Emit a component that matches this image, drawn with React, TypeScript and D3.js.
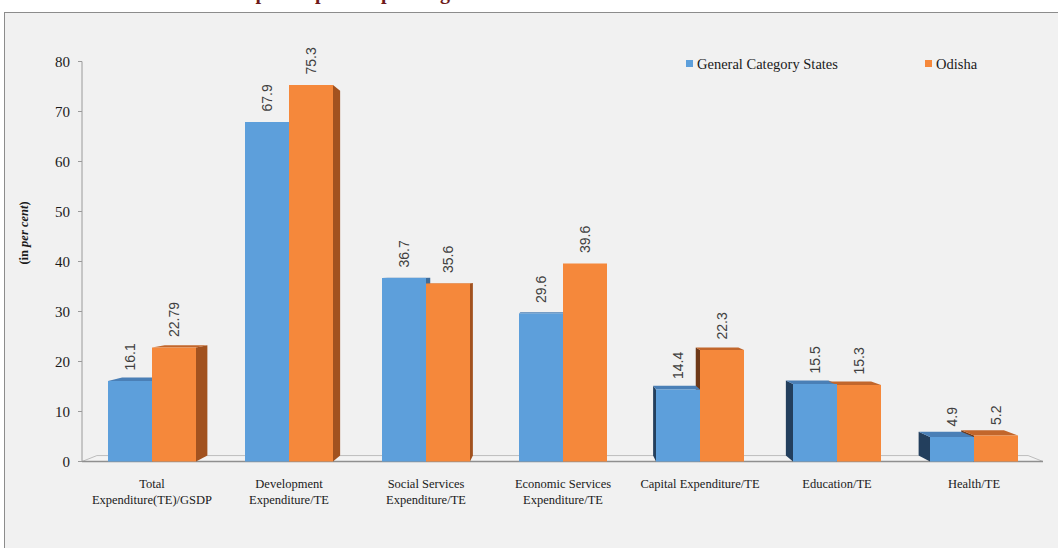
import React from "react";
import * as d3 from "d3";

const categoryLines: string[][] = [
  ["Total", "Expenditure(TE)/GSDP"],
  ["Development", "Expenditure/TE"],
  ["Social Services", "Expenditure/TE"],
  ["Economic Services", "Expenditure/TE"],
  ["Capital Expenditure/TE"],
  ["Education/TE"],
  ["Health/TE"],
];
const categories = categoryLines.map((l) => l.join(" "));
const seriesNames = ["General Category States", "Odisha"];
const gcsValues = [16.1, 67.9, 36.7, 29.6, 14.4, 15.5, 4.9];
const odishaValues = [22.79, 75.3, 35.6, 39.6, 22.3, 15.3, 5.2];
const yTicks = [0, 10, 20, 30, 40, 50, 60, 70, 80];

const W = 1058;
const H = 548;

const palette = {
  front: ["#5d9fdb", "#f5883b"],
  top: ["#4a7fb6", "#c2662b"],
  leftSide: ["#233f5d", "#6e3817"],
  rightSide: ["#3f6c9a", "#a2521f"],
};

export default function App() {
  const x0 = d3.scaleBand<string>().domain(categories).range([83.5, 1042.5]).paddingInner(0).paddingOuter(0);
  const x1 = d3.scaleBand<string>().domain(seriesNames).range([0, x0.bandwidth()]).paddingInner(0).paddingOuter(0.5568);
  const y = d3.scaleLinear().domain([0, 80]).range([461.5, 61.5]);

  const vx = 563;
  const vy = 270;
  const s = 0.969;
  const P = (px: number, py: number): [number, number] => [vx + (px - vx) * s, vy + (py - vy) * s];
  const pts = (arr: [number, number][]) => arr.map((p) => p.join(",")).join(" ");

  const base = y(0);
  type Bar = { x0: number; x1: number; yt: number; si: number; v: number; c: number };
  const bars: Bar[] = [];
  categories.forEach((c, i) => {
    [gcsValues[i], odishaValues[i]].forEach((v, si) => {
      const bx = (x0(c) as number) + (x1(seriesNames[si]) as number);
      bars.push({ x0: bx, x1: bx + x1.bandwidth(), yt: y(v), si, v, c: i });
    });
  });

  const floorL = 82;
  const floorR = 1043;
  const fbl = P(floorL, base);
  const fbr = P(floorR, base);

  return (
    <svg width={W} height={H} style={{ position: "absolute", left: 0, top: 0, display: "block" }}>
      <rect x={0} y={0} width={W} height={H} fill="#ffffff" />
      <text
        x={450}
        y={-0.8}
        textAnchor="end"
        fontFamily="Liberation Serif, serif"
        fontWeight="bold"
        fontSize={20}
        fill="#6e1b1b"
      >
        Odisha vis-à-vis GCS: Development public spending
      </text>
      <rect x={4.5} y={12.5} width={W} height={H} fill="#f1f1f1" stroke="#8c8c8c" strokeWidth={1} />

      {/* floor */}
      <polygon
        points={pts([[floorL, base], [floorR, base], fbr, fbl])}
        fill="#f3f3f3"
        stroke="#bdbdbd"
        strokeWidth={1}
      />
      <line x1={floorL} x2={floorR} y1={base} y2={base} stroke="#8f8f8f" strokeWidth={1.5} />

      {/* y axis */}
      <line x1={82} x2={82} y1={y(80)} y2={base} stroke="#9a9a9a" strokeWidth={1} />
      {yTicks.map((t) => (
        <g key={t}>
          <line x1={78} x2={82} y1={y(t)} y2={y(t)} stroke="#9a9a9a" strokeWidth={1} />
          <text
            x={70}
            y={y(t)}
            dy="0.35em"
            textAnchor="end"
            fontFamily="Liberation Serif, serif"
            fontSize={15}
            fill="#1a1a1a"
          >
            {t}
          </text>
        </g>
      ))}
      <text
        transform="translate(24,233) rotate(-90)"
        textAnchor="middle"
        dy="0.35em"
        fontFamily="Liberation Serif, serif"
        fontWeight="bold"
        fontSize={12.5}
        fill="#1a1a1a"
      >
        (in <tspan fontStyle="italic">per cent</tspan>)
      </text>

      {/* side faces */}
      {bars.map((b, i) => (
        <g key={"side" + i}>
          {b.x1 < vx - 0.5 && (
            <polygon
              points={pts([[b.x1, b.yt], [b.x1, base], P(b.x1, base), P(b.x1, b.yt)])}
              fill={palette.rightSide[b.si]}
            />
          )}
          {b.x0 > vx + 0.5 && (
            <polygon
              points={pts([[b.x0, b.yt], [b.x0, base], P(b.x0, base), P(b.x0, b.yt)])}
              fill={palette.leftSide[b.si]}
            />
          )}
        </g>
      ))}
      {/* top faces */}
      {bars.map((b, i) =>
        b.yt > vy ? (
          <polygon
            key={"top" + i}
            points={pts([[b.x0, b.yt], [b.x1, b.yt], P(b.x1, b.yt), P(b.x0, b.yt)])}
            fill={palette.top[b.si]}
          />
        ) : null
      )}
      {/* front faces */}
      {bars.map((b, i) => (
        <rect
          key={"front" + i}
          x={b.x0}
          y={b.yt}
          width={b.x1 - b.x0}
          height={base - b.yt}
          fill={palette.front[b.si]}
        />
      ))}
      {/* value labels */}
      {bars.map((b, i) => (
        <text
          key={"lab" + i}
          transform={`translate(${(b.x0 + b.x1) / 2},${b.yt - 10.5}) rotate(-90)`}
          dy="0.35em"
          textAnchor="start"
          fontFamily="Liberation Sans, Arial, sans-serif"
          fontSize={14}
          fill="#404040"
        >
          {String(b.v)}
        </text>
      ))}

      {/* x labels */}
      {categoryLines.map((lines, i) => (
        <text
          key={"xl" + i}
          textAnchor="middle"
          fontFamily="Liberation Serif, serif"
          fontSize={12.5}
          fill="#1a1a1a"
        >
          {lines.map((ln, j) => (
            <tspan key={j} x={(x0(categories[i]) as number) + x0.bandwidth() / 2} y={487.5 + j * 16.5}>
              {ln}
            </tspan>
          ))}
        </text>
      ))}

      {/* legend */}
      {seriesNames.map((n, i) => {
        const lx = [686, 925][i];
        return (
          <g key={n}>
            <rect x={lx} y={60} width={7} height={7} fill={palette.front[i]} />
            <text x={lx + 11} y={68.5} fontFamily="Liberation Serif, serif" fontSize={14.5} fill="#1a1a1a">
              {n}
            </text>
          </g>
        );
      })}
    </svg>
  );
}
